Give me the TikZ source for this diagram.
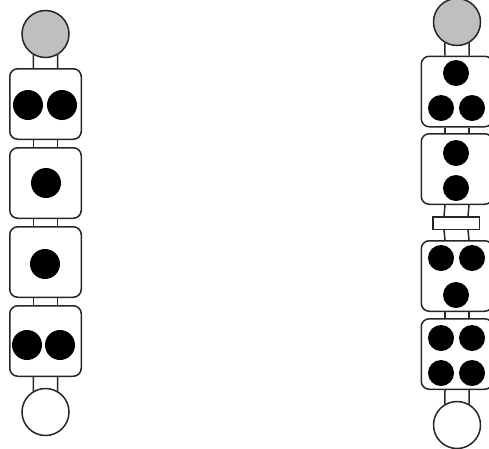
\documentclass[tikz,border=0pt]{standalone}
\usepackage{tikz}
\begin{document}
\begin{tikzpicture}[x=1pt,y=-1pt,
  die/.style={draw=black!85, line width=1.5pt, rounded corners=8pt, fill=white,
    minimum width=71.5pt, minimum height=70.5pt, inner sep=0pt},
  endball/.style={draw=black!85, line width=1.5pt, circle, minimum size=47pt, inner sep=0pt},
  link/.style={draw=black!85, line width=1.5pt}]
\useasboundingbox (0,0) rectangle (489,448);
\node[endball, fill=gray!50] (ltop) at (45.5,34) {};
\node[die] (l1) at (45.5,104) {};
\node[die] (l2) at (45.5,183) {};
\node[die] (l3) at (45.5,262) {};
\node[die] (l4) at (45.5,341) {};
\node[endball, fill=white] (lbot) at (45.5,412) {};
\node[endball, fill=gray!50] (rtop) at (457,22) {};
\node[die] (r1) at (457,91.5) {};
\node[die] (r2) at (457,169) {};
\node[link, minimum width=46.5pt, minimum height=12.5pt, inner sep=0pt] (rmid) at (456,223) {};
\node[die] (r3) at (457,276) {};
\node[die] (r4) at (457,354) {};
\node[endball, fill=white] (rbot) at (457,425) {};
\foreach \t/\b in {ltop/l1, rtop/r1}
  \draw[link] (\t.-120) -- ([xshift=-12pt]\b.north) (\t.-60) -- ([xshift=12pt]\b.north);
\foreach \t/\b in {l4/lbot, r4/rbot}
  \draw[link] ([xshift=-12pt]\t.south) -- (\b.120) ([xshift=12pt]\t.south) -- (\b.60);
\foreach \t/\b in {l1/l2, l2/l3, l3/l4, r1/r2, r2/rmid, rmid/r3, r3/r4}
  \draw[link] ([xshift=-12pt]\t.south) -- ([xshift=-12pt]\b.north)
    ([xshift=12pt]\t.south) -- ([xshift=12pt]\b.north);
\foreach \p in {(28,105),(62,105),(46,183),(45,264),(27,345),(60,345)}
  \fill \p circle (15pt);
\foreach \p in {(456,73),(441,108),(472,108),(456,153),(456,188),
  (441,258),(472,258),(456,295),(441,338),(472,338),(441,373),(472,373)}
  \fill \p circle (13pt);
\end{tikzpicture}
\end{document}
